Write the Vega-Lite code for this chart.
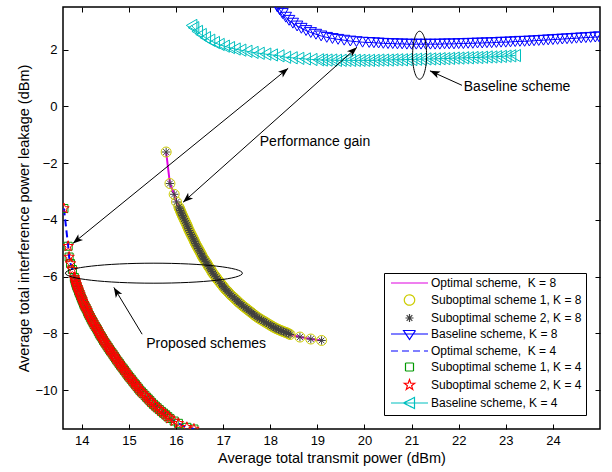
{
  "$schema": "https://vega.github.io/schema/vega-lite/v6.json",
  "width": 537,
  "height": 422,
  "autosize": {"type": "none"},
  "padding": {"left": 63, "top": 7, "right": 12, "bottom": 43},
  "background": "white",
  "config": {
    "font": "Liberation Sans",
    "view": {"stroke": "black", "strokeWidth": 1.5},
    "legend": {
      "orient": "bottom-right",
      "offset": 14,
      "strokeColor": "black",
      "fillColor": "white",
      "padding": 4,
      "labelFont": "Liberation Sans",
      "labelFontSize": 12,
      "labelColor": "black",
      "symbolSize": 100,
      "symbolStrokeWidth": 1.2,
      "symbolOpacity": 1,
      "labelOffset": 31,
      "rowPadding": 3,
      "labelLimit": 300,
      "cornerRadius": 0
    }
  },
  "datasets": {
    "k8": [
      {"x":15.79,"y":-1.61},{"x":15.87,"y":-2.72},{"x":15.96,"y":-3.10},{"x":16.01,"y":-3.37},
      {"x":16.06,"y":-3.55},{"x":16.075,"y":-3.61},{"x":16.09,"y":-3.67},{"x":16.105,"y":-3.73},{"x":16.12,"y":-3.79},{"x":16.135,"y":-3.845},{"x":16.15,"y":-3.90},{"x":16.17,"y":-3.97},{"x":16.19,"y":-4.04},{"x":16.21,"y":-4.11},{"x":16.23,"y":-4.18},{"x":16.245,"y":-4.245},{"x":16.26,"y":-4.31},{"x":16.28,"y":-4.38},{"x":16.30,"y":-4.45},{"x":16.32,"y":-4.515},{"x":16.34,"y":-4.58},{"x":16.36,"y":-4.645},{"x":16.38,"y":-4.71},{"x":16.395,"y":-4.77},{"x":16.41,"y":-4.83},{"x":16.43,"y":-4.89},{"x":16.45,"y":-4.95},{"x":16.47,"y":-5.01},{"x":16.49,"y":-5.07},{"x":16.51,"y":-5.13},{"x":16.53,"y":-5.19},{"x":16.545,"y":-5.245},{"x":16.56,"y":-5.30},{"x":16.58,"y":-5.35},{"x":16.60,"y":-5.40},{"x":16.625,"y":-5.46},{"x":16.65,"y":-5.52},{"x":16.67,"y":-5.58},{"x":16.69,"y":-5.64},{"x":16.715,"y":-5.70},{"x":16.74,"y":-5.76},{"x":16.76,"y":-5.82},{"x":16.78,"y":-5.88},{"x":16.81,"y":-5.94},{"x":16.84,"y":-6.00},{"x":16.865,"y":-6.06},{"x":16.89,"y":-6.12},{"x":16.92,"y":-6.18},{"x":16.95,"y":-6.24},{"x":16.975,"y":-6.295},{"x":17.00,"y":-6.35},{"x":17.025,"y":-6.40},{"x":17.05,"y":-6.45},{"x":17.08,"y":-6.50},{"x":17.11,"y":-6.55},{"x":17.14,"y":-6.605},{"x":17.17,"y":-6.66},{"x":17.205,"y":-6.71},{"x":17.24,"y":-6.76},{"x":17.27,"y":-6.81},{"x":17.30,"y":-6.86},{"x":17.33,"y":-6.905},{"x":17.36,"y":-6.95},{"x":17.395,"y":-7.00},{"x":17.43,"y":-7.05},{"x":17.465,"y":-7.095},{"x":17.50,"y":-7.14},{"x":17.535,"y":-7.185},{"x":17.57,"y":-7.23},{"x":17.60,"y":-7.27},{"x":17.63,"y":-7.31},{"x":17.665,"y":-7.355},{"x":17.70,"y":-7.40},{"x":17.735,"y":-7.44},{"x":17.77,"y":-7.48},{"x":17.81,"y":-7.52},{"x":17.85,"y":-7.56},{"x":17.885,"y":-7.595},{"x":17.92,"y":-7.63},{"x":17.96,"y":-7.67},{"x":18.00,"y":-7.71},{"x":18.035,"y":-7.745},{"x":18.07,"y":-7.78},{"x":18.105,"y":-7.81},{"x":18.14,"y":-7.84},{"x":18.175,"y":-7.865},{"x":18.21,"y":-7.89},{"x":18.245,"y":-7.915},{"x":18.28,"y":-7.94},{"x":18.315,"y":-7.96},{"x":18.35,"y":-7.98},{"x":18.385,"y":-8.01},{"x":18.42,"y":-8.04},
      {"x":18.63,"y":-8.13},{"x":18.86,"y":-8.20},{"x":19.09,"y":-8.25}
    ],
    "k4": [
      {"x":13.62,"y":-3.60},{"x":13.71,"y":-4.93},{"x":13.73,"y":-5.31},{"x":13.76,"y":-5.54},{"x":13.80,"y":-5.75},
      {"x":13.84,"y":-6.03},{"x":13.85,"y":-6.09},{"x":13.86,"y":-6.15},{"x":13.87,"y":-6.21},{"x":13.88,"y":-6.27},{"x":13.89,"y":-6.325},{"x":13.905,"y":-6.38},{"x":13.92,"y":-6.44},{"x":13.93,"y":-6.50},{"x":13.945,"y":-6.56},{"x":13.96,"y":-6.62},{"x":13.975,"y":-6.685},{"x":13.99,"y":-6.75},{"x":14.005,"y":-6.81},{"x":14.02,"y":-6.87},{"x":14.035,"y":-6.935},{"x":14.05,"y":-7.00},{"x":14.07,"y":-7.06},{"x":14.09,"y":-7.12},{"x":14.11,"y":-7.185},{"x":14.125,"y":-7.25},{"x":14.14,"y":-7.31},{"x":14.16,"y":-7.37},{"x":14.18,"y":-7.435},{"x":14.20,"y":-7.50},{"x":14.22,"y":-7.56},{"x":14.24,"y":-7.62},{"x":14.26,"y":-7.685},{"x":14.285,"y":-7.75},{"x":14.31,"y":-7.81},{"x":14.33,"y":-7.87},{"x":14.35,"y":-7.935},{"x":14.37,"y":-8.00},{"x":14.39,"y":-8.06},{"x":14.415,"y":-8.12},{"x":14.44,"y":-8.185},{"x":14.46,"y":-8.25},{"x":14.485,"y":-8.31},{"x":14.51,"y":-8.37},{"x":14.535,"y":-8.435},{"x":14.56,"y":-8.50},{"x":14.585,"y":-8.56},{"x":14.61,"y":-8.62},{"x":14.64,"y":-8.685},{"x":14.665,"y":-8.75},{"x":14.69,"y":-8.81},{"x":14.715,"y":-8.87},{"x":14.74,"y":-8.935},{"x":14.77,"y":-9.00},{"x":14.795,"y":-9.06},{"x":14.82,"y":-9.12},{"x":14.85,"y":-9.185},{"x":14.88,"y":-9.25},{"x":14.905,"y":-9.31},{"x":14.935,"y":-9.37},{"x":14.96,"y":-9.435},{"x":14.99,"y":-9.50},{"x":15.02,"y":-9.56},{"x":15.05,"y":-9.62},{"x":15.08,"y":-9.685},{"x":15.11,"y":-9.75},{"x":15.14,"y":-9.81},{"x":15.17,"y":-9.87},{"x":15.20,"y":-9.935},{"x":15.23,"y":-10.00},{"x":15.265,"y":-10.06},{"x":15.30,"y":-10.12},{"x":15.34,"y":-10.185},{"x":15.375,"y":-10.25},{"x":15.41,"y":-10.31},{"x":15.445,"y":-10.37},{"x":15.48,"y":-10.435},{"x":15.52,"y":-10.50},{"x":15.56,"y":-10.56},{"x":15.60,"y":-10.62},{"x":15.645,"y":-10.685},{"x":15.69,"y":-10.75},{"x":15.735,"y":-10.81},{"x":15.78,"y":-10.87},{"x":15.825,"y":-10.935},{"x":15.87,"y":-11.00},{"x":15.96,"y":-11.09},
      {"x":16.05,"y":-11.17},{"x":16.23,"y":-11.31},{"x":16.38,"y":-11.37}
    ],
    "b8": [
      {"x":18.15,"y":3.50},{"x":18.20,"y":3.40},{"x":18.26,"y":3.27},{"x":18.33,"y":3.14},{"x":18.40,"y":3.03},{"x":18.48,"y":2.93},{"x":18.57,"y":2.83},{"x":18.66,"y":2.75},{"x":18.76,"y":2.67},{"x":18.86,"y":2.60},{"x":18.97,"y":2.54},{"x":19.08,"y":2.48},{"x":19.20,"y":2.43},{"x":19.32,"y":2.39},{"x":19.44,"y":2.36},{"x":19.57,"y":2.33},{"x":19.70,"y":2.30},{"x":19.83,"y":2.28},{"x":19.96,"y":2.26},{"x":20.1,"y":2.25},{"x":20.2,"y":2.24},{"x":20.3,"y":2.23},{"x":20.4,"y":2.22},{"x":20.5,"y":2.21},{"x":20.6,"y":2.21},{"x":20.7,"y":2.20},{"x":20.8,"y":2.20},{"x":20.9,"y":2.19},{"x":21.0,"y":2.19},{"x":21.1,"y":2.19},{"x":21.2,"y":2.19},{"x":21.3,"y":2.19},{"x":21.4,"y":2.19},{"x":21.5,"y":2.19},{"x":21.6,"y":2.19},{"x":21.7,"y":2.20},{"x":21.8,"y":2.20},{"x":21.9,"y":2.20},{"x":22.0,"y":2.21},{"x":22.1,"y":2.21},{"x":22.2,"y":2.22},{"x":22.3,"y":2.22},{"x":22.4,"y":2.23},{"x":22.5,"y":2.23},{"x":22.6,"y":2.24},{"x":22.7,"y":2.24},{"x":22.8,"y":2.25},{"x":22.9,"y":2.26},{"x":23.0,"y":2.26},{"x":23.1,"y":2.27},{"x":23.2,"y":2.28},{"x":23.3,"y":2.29},{"x":23.4,"y":2.29},{"x":23.5,"y":2.30},{"x":23.6,"y":2.31},{"x":23.7,"y":2.32},{"x":23.8,"y":2.33},{"x":23.9,"y":2.34},{"x":24.0,"y":2.35},{"x":24.1,"y":2.36},{"x":24.2,"y":2.37},{"x":24.3,"y":2.38},{"x":24.4,"y":2.39},{"x":24.5,"y":2.40},{"x":24.6,"y":2.41},{"x":24.7,"y":2.42},{"x":24.8,"y":2.43},{"x":24.9,"y":2.44},{"x":24.98,"y":2.45}
    ],
    "b4": [
      {"x":16.33,"y":2.85},{"x":16.37,"y":2.77},{"x":16.45,"y":2.64},{"x":16.53,"y":2.53},{"x":16.62,"y":2.42},{"x":16.71,"y":2.33},{"x":16.81,"y":2.25},{"x":16.91,"y":2.18},{"x":17.02,"y":2.12},{"x":17.13,"y":2.07},{"x":17.25,"y":2.02},{"x":17.37,"y":1.98},{"x":17.50,"y":1.94},{"x":17.63,"y":1.90},{"x":17.76,"y":1.87},{"x":17.90,"y":1.84},{"x":18.04,"y":1.81},{"x":18.18,"y":1.78},{"x":18.32,"y":1.73},{"x":18.46,"y":1.71},{"x":18.60,"y":1.69},{"x":18.74,"y":1.67},{"x":18.88,"y":1.65},{"x":19.02,"y":1.64},{"x":19.1,"y":1.63},{"x":19.2,"y":1.63},{"x":19.3,"y":1.63},{"x":19.4,"y":1.62},{"x":19.5,"y":1.62},{"x":19.6,"y":1.62},{"x":19.7,"y":1.62},{"x":19.8,"y":1.62},{"x":19.9,"y":1.62},{"x":20.0,"y":1.62},{"x":20.1,"y":1.62},{"x":20.2,"y":1.62},{"x":20.3,"y":1.63},{"x":20.4,"y":1.63},{"x":20.5,"y":1.63},{"x":20.6,"y":1.64},{"x":20.7,"y":1.64},{"x":20.8,"y":1.64},{"x":20.9,"y":1.65},{"x":21.0,"y":1.65},{"x":21.1,"y":1.66},{"x":21.2,"y":1.66},{"x":21.3,"y":1.67},{"x":21.4,"y":1.67},{"x":21.5,"y":1.67},{"x":21.6,"y":1.68},{"x":21.7,"y":1.68},{"x":21.8,"y":1.69},{"x":21.9,"y":1.70},{"x":22.0,"y":1.70},{"x":22.1,"y":1.71},{"x":22.2,"y":1.71},{"x":22.3,"y":1.72},{"x":22.4,"y":1.72},{"x":22.5,"y":1.73},{"x":22.6,"y":1.74},{"x":22.7,"y":1.74},{"x":22.8,"y":1.75},{"x":22.9,"y":1.76},{"x":23.0,"y":1.77},{"x":23.1,"y":1.78},{"x":23.2,"y":1.79}
    ],
    "legend": [
      {"series":"Optimal scheme,\u00a0 K = 8","x":15.79,"y":-1.61},
      {"series":"Suboptimal scheme 1, K = 8","x":15.79,"y":-1.61},
      {"series":"Suboptimal scheme 2, K = 8","x":15.79,"y":-1.61},
      {"series":"Baseline scheme, K = 8","x":18.15,"y":3.5},
      {"series":"Optimal scheme,\u00a0 K = 4","x":13.62,"y":-3.6},
      {"series":"Suboptimal scheme 1, K = 4","x":13.62,"y":-3.6},
      {"series":"Suboptimal scheme 2, K = 4","x":13.62,"y":-3.6},
      {"series":"Baseline scheme, K = 4","x":16.33,"y":2.85}
    ],
    "arrows": [
      {"x":13.81,"y":-4.83,"x2":18.38,"y2":1.34},
      {"x":16.15,"y":-3.38,"x2":19.84,"y2":2.08},
      {"x":15.28,"y":-8.03,"x2":14.68,"y2":-6.38},
      {"x":22.07,"y":0.74,"x2":21.39,"y2":1.25}
    ],
    "labels": [
      {"x":18.95,"y":-1.24,"text":"Performance gain"},
      {"x":23.24,"y":0.68,"text":"Baseline scheme"},
      {"x":16.64,"y":-8.37,"text":"Proposed schemes"}
    ]
  },
  "encoding": {
    "x": {"field": "x", "type": "quantitative", "scale": {"domain": [13.6, 25], "nice": false, "zero": false}, "axis": null},
    "y": {"field": "y", "type": "quantitative", "scale": {"domain": [-11.37, 3.5], "nice": false, "zero": false}, "axis": null}
  },
  "layer": [
    {
      "data": {"name": "legend"},
      "mark": {"type": "point", "filled": false, "opacity": 0},
      "encoding": {
        "x": {"field": "x", "type": "quantitative", "scale": {"domain": [13.6, 25], "nice": false, "zero": false},
          "axis": {"orient": "bottom", "values": [14,15,16,17,18,19,20,21,22,23,24], "title": "Average total transmit power (dBm)", "tickSize": -5, "labelPadding": 10, "titlePadding": 4, "domain": false, "grid": false, "labelFontSize": 13, "titleFontSize": 14.5, "titleFontWeight": "normal", "labelColor": "black", "titleColor": "black", "tickColor": "black", "labelFont": "Liberation Sans", "titleFont": "Liberation Sans", "labelFlush": false}},
        "y": {"field": "y", "type": "quantitative", "scale": {"domain": [-11.37, 3.5], "nice": false, "zero": false},
          "axis": {"orient": "left", "values": [-10,-8,-6,-4,-2,0,2], "title": "Average total interference power leakage (dBm)", "tickSize": -5, "labelPadding": 11, "titlePadding": 3, "domain": false, "grid": false, "labelFontSize": 13, "titleFontSize": 14.5, "titleFontWeight": "normal", "labelColor": "black", "titleColor": "black", "tickColor": "black", "labelFont": "Liberation Sans", "titleFont": "Liberation Sans", "labelFlush": false}},
        "color": {"field": "series", "type": "nominal", "title": null,
          "scale": {"domain": ["Optimal scheme,\u00a0 K = 8","Suboptimal scheme 1, K = 8","Suboptimal scheme 2, K = 8","Baseline scheme, K = 8","Optimal scheme,\u00a0 K = 4","Suboptimal scheme 1, K = 4","Suboptimal scheme 2, K = 4","Baseline scheme, K = 4"],
            "range": ["#e000e0","#cccc00","#404040","#0000ff","#0000ff","#009900","#ff0000","#00bfbf"]}},
        "shape": {"field": "series", "type": "nominal", "title": null,
          "scale": {"domain": ["Optimal scheme,\u00a0 K = 8","Suboptimal scheme 1, K = 8","Suboptimal scheme 2, K = 8","Baseline scheme, K = 8","Optimal scheme,\u00a0 K = 4","Suboptimal scheme 1, K = 4","Suboptimal scheme 2, K = 4","Baseline scheme, K = 4"],
            "range": [
              "M-0.6,0L6.8,0",
              "M4.14,0C4.14,0.574,3.674,1.04,3.1,1.04C2.526,1.04,2.06,0.574,2.06,0C2.06,-0.574,2.526,-1.04,3.1,-1.04C3.674,-1.04,4.14,-0.574,4.14,0Z",
              "M2.3,0L3.9,0M3.1,-0.8L3.1,0.8M2.53,-0.57L3.67,0.57M2.53,0.57L3.67,-0.57",
              "M-0.6,0L6.8,0M1.9,-0.7L4.3,-0.7L3.1,1.1Z",
              "M-0.6,0L6.8,0",
              "M2.3,-0.8L3.9,-0.8L3.9,0.8L2.3,0.8Z",
              "M3.1,-1.1L3.359,-0.356L4.146,-0.34L3.518,0.136L3.747,0.89L3.1,0.44L2.453,0.89L2.682,0.136L2.054,-0.34L2.841,-0.356Z",
              "M-0.6,0L6.8,0M1.9,0L4.1,-1.1L4.1,1.1Z"
            ]}},
        "strokeDash": {"field": "series", "type": "nominal", "title": null,
          "scale": {"domain": ["Optimal scheme,\u00a0 K = 8","Suboptimal scheme 1, K = 8","Suboptimal scheme 2, K = 8","Baseline scheme, K = 8","Optimal scheme,\u00a0 K = 4","Suboptimal scheme 1, K = 4","Suboptimal scheme 2, K = 4","Baseline scheme, K = 4"],
            "range": [[1,0],[1,0],[1,0],[1,0],[7,4],[1,0],[1,0],[1,0]]}}
      }
    },
    {"data": {"name": "k8"}, "mark": {"type": "line", "color": "#e000e0", "strokeWidth": 2, "clip": true}},
    {"data": {"name": "k8"}, "mark": {"type": "point", "shape": "circle", "size": 100, "filled": false, "color": "#cccc00", "strokeWidth": 1, "opacity": 1, "clip": true}},
    {"data": {"name": "k8"}, "mark": {"type": "point", "shape": "M-1,0L1,0M0,-1L0,1M-0.7,-0.7L0.7,0.7M-0.7,0.7L0.7,-0.7", "size": 70, "filled": false, "color": "#404040", "strokeWidth": 1, "opacity": 1, "clip": true}},
    {"data": {"name": "b8"}, "mark": {"type": "line", "color": "#0000ff", "strokeWidth": 1, "clip": true}},
    {"data": {"name": "b8"}, "mark": {"type": "point", "shape": "triangle-down", "size": 130, "filled": false, "color": "#0000ff", "strokeWidth": 1, "opacity": 1, "clip": true}},
    {"data": {"name": "k4"}, "mark": {"type": "line", "color": "#0000ff", "strokeWidth": 2, "strokeDash": [7, 4], "clip": true}},
    {"data": {"name": "k4"}, "mark": {"type": "point", "shape": "square", "size": 64, "filled": false, "color": "#009900", "strokeWidth": 1, "opacity": 1, "clip": true}},
    {"data": {"name": "k4"}, "mark": {"type": "point", "shape": "M0,-1L0.235,-0.324L0.951,-0.309L0.38,0.124L0.588,0.809L0,0.4L-0.588,0.809L-0.38,0.124L-0.951,-0.309L-0.235,-0.324Z", "size": 121, "filled": false, "color": "#ff0000", "strokeWidth": 1, "opacity": 1, "clip": true}},
    {"data": {"name": "b4"}, "mark": {"type": "line", "color": "#00bfbf", "strokeWidth": 1, "clip": true}},
    {"data": {"name": "b4"}, "mark": {"type": "point", "shape": "triangle-left", "size": 150, "filled": false, "color": "#00bfbf", "strokeWidth": 1, "opacity": 1, "clip": true}},
    {"data": {"name": "arrows"}, "mark": {"type": "rule", "color": "black", "strokeWidth": 1},
      "encoding": {"x2": {"field": "x2"}, "y2": {"field": "y2"}}},
    {"data": {"values": [{"x": 13.81, "y": -4.83}]}, "mark": {"type": "point", "shape": "M0,0L-2,-0.75L-1.5,0L-2,0.75Z", "size": 100, "filled": true, "color": "black", "opacity": 1, "angle": 140.9}},
    {"data": {"values": [{"x": 18.38, "y": 1.34}]}, "mark": {"type": "point", "shape": "M0,0L-2,-0.75L-1.5,0L-2,0.75Z", "size": 100, "filled": true, "color": "black", "opacity": 1, "angle": 320.9}},
    {"data": {"values": [{"x": 16.15, "y": -3.38}]}, "mark": {"type": "point", "shape": "M0,0L-2,-0.75L-1.5,0L-2,0.75Z", "size": 100, "filled": true, "color": "black", "opacity": 1, "angle": 138.3}},
    {"data": {"values": [{"x": 19.84, "y": 2.08}]}, "mark": {"type": "point", "shape": "M0,0L-2,-0.75L-1.5,0L-2,0.75Z", "size": 100, "filled": true, "color": "black", "opacity": 1, "angle": 318.3}},
    {"data": {"values": [{"x": 14.68, "y": -6.38}]}, "mark": {"type": "point", "shape": "M0,0L-2,-0.75L-1.5,0L-2,0.75Z", "size": 100, "filled": true, "color": "black", "opacity": 1, "angle": 238.9}},
    {"data": {"values": [{"x": 21.39, "y": 1.25}]}, "mark": {"type": "point", "shape": "M0,0L-2,-0.75L-1.5,0L-2,0.75Z", "size": 100, "filled": true, "color": "black", "opacity": 1, "angle": 204.2}},
    {"data": {"values": [{"x": 15.53, "y": -5.88}]}, "mark": {"type": "point", "shape": "M1,0C1,0.0624,0.5523,0.113,0,0.113C-0.5523,0.113,-1,0.0624,-1,0C-1,-0.0624,-0.5523,-0.113,0,-0.113C0.5523,-0.113,1,-0.0624,1,0Z", "size": 31329, "filled": false, "color": "black", "strokeWidth": 1, "opacity": 1}},
    {"data": {"values": [{"x": 21.17, "y": 1.80}]}, "mark": {"type": "point", "shape": "M0.292,0C0.292,0.5523,0.1613,1,0,1C-0.1613,1,-0.292,0.5523,-0.292,0C-0.292,-0.5523,-0.1613,-1,0,-1C0.1613,-1,0.292,-0.5523,0.292,0Z", "size": 2304, "filled": false, "color": "black", "strokeWidth": 1, "opacity": 1}},
    {
      "data": {"name": "labels"},
      "mark": {"type": "text", "font": "Liberation Sans", "fontSize": 14, "color": "black", "align": "center", "baseline": "middle"},
      "encoding": {
        "text": {"field": "text"},
        "x": {"field": "x", "type": "quantitative", "scale": {"domain": [13.6, 25], "nice": false, "zero": false},
          "axis": {"orient": "top", "values": [14,15,16,17,18,19,20,21,22,23,24], "labels": false, "title": null, "tickSize": -5, "domain": false, "grid": false, "tickColor": "black"}},
        "y": {"field": "y", "type": "quantitative", "scale": {"domain": [-11.37, 3.5], "nice": false, "zero": false},
          "axis": {"orient": "right", "values": [-10,-8,-6,-4,-2,0,2], "labels": false, "title": null, "tickSize": -5, "domain": false, "grid": false, "tickColor": "black"}}
      }
    }
  ]
}
